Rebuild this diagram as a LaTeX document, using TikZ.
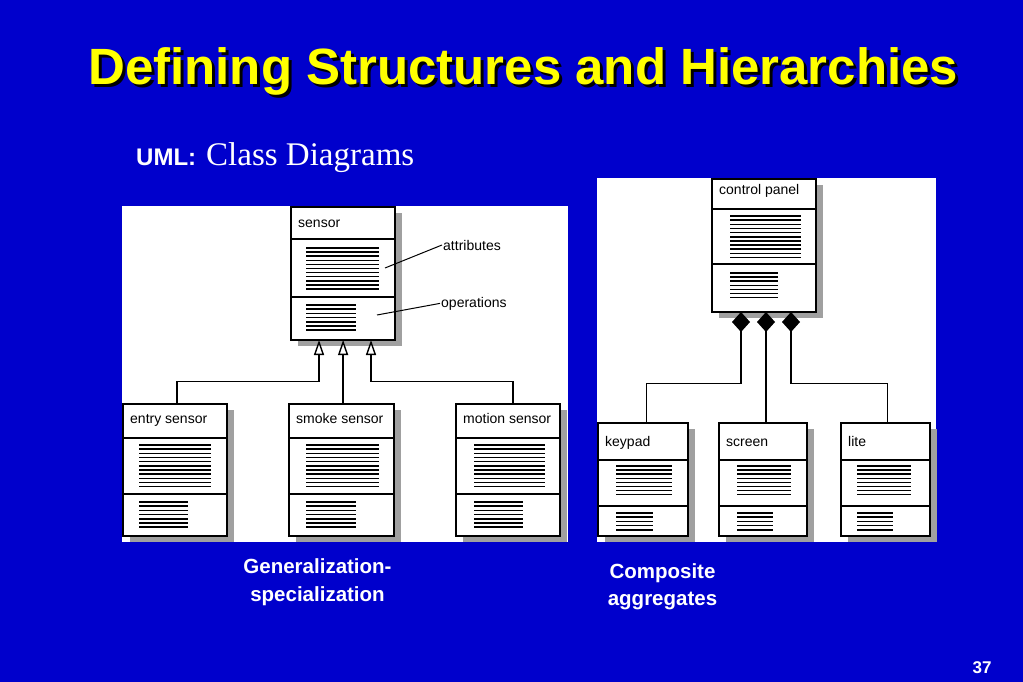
\documentclass[tikz,border=0pt]{standalone}
\usepackage{fontspec}
\newfontfamily\arialf{Liberation Sans}
\newfontfamily\timesf{Liberation Serif}
\usetikzlibrary{arrows.meta}
\definecolor{bgblue}{RGB}{0,0,204}
\definecolor{ttlyellow}{RGB}{255,255,0}
\definecolor{shadowgray}{RGB}{160,160,160}
\tikzset{
 classbox/.style={draw=black, fill=white, line width=1.4pt, inner sep=0pt, outer sep=0pt, anchor=north west},
 boxline/.style={draw=black, line width=1.4pt},
 hatchline/.style={draw=black, line width=1.5pt},
 umltext/.style={font=\arialf\fontsize{14}{16}\selectfont, inner sep=0pt, anchor=base west},
 genline/.style={draw=black, line width=1.4pt, -{Triangle[fill=white,length=15pt,width=10pt]}},
 aggline/.style={draw=black, line width=1.4pt, -{Diamond[fill=black,length=20pt,width=18pt]}},
 leader/.style={draw=black, line width=1pt},
 caption/.style={font=\arialf\bfseries\fontsize{20.5}{24}\selectfont, text=white, inner sep=0pt, anchor=base},
 titletext/.style={font=\arialf\bfseries\fontsize{51}{56}\selectfont, inner sep=0pt, anchor=base west},
}
% name, x1, y1, x2, y2, d1, d2, label, label baseline
\newcommand{\uclass}[9]{%
 \fill[shadowgray] ({#2+7},{#3+6}) rectangle ({#4+7},{#5+6});
 \node[classbox, minimum width={(#4-#2)*1pt}, minimum height={(#5-#3)*1pt}] (#1) at (#2,#3) {};
 \draw[boxline] (#2,#6) -- (#4,#6);
 \draw[boxline] (#2,#7) -- (#4,#7);
 \node[umltext] (#1-lbl) at ({#2+7},#9) {#8};
}
% x1, x2, ystart, n, step
\newcommand{\hatch}[5]{%
 \foreach \k in {1,...,#4}{\draw[hatchline] ({#1},{#3+(\k-1)*#5}) -- ({#2},{#3+(\k-1)*#5});}
}
\newcommand{\ttltext}{Defining Structures and Hierarchies}
\begin{document}
\begin{tikzpicture}[x=1pt,y=-1pt]
\useasboundingbox (0,0) rectangle (1023,682);
\fill[bgblue] (0,0) rectangle (1023,682);
% title with drop shadow
\node[titletext, text=ttlyellow] (title) at (88,85) {\makebox[0pt][l]{\hspace{3pt}\raisebox{-3pt}{\color{black}\ttltext}}\ttltext};
\node[font=\arialf\bfseries\fontsize{24}{28}\selectfont, text=white, inner sep=0pt, anchor=base west] (uml) at (136,165) {UML:};
\node[font=\timesf\fontsize{33}{36}\selectfont, text=white, inner sep=0pt, anchor=base west] (classdiag) at (206,165) {Class Diagrams};
% panels
\fill[white] (122,206) rectangle (568,542);
\fill[white] (597,178) rectangle (936,542);
% left diagram
\uclass{sensor}{291}{207}{395}{340}{239}{297}{sensor}{227}
\hatch{306}{379}{248}{11}{4.1}
\hatch{306}{356}{305}{7}{4.2}
\uclass{entry}{123}{404}{227}{536}{438}{494}{entry sensor}{423}
\hatch{139}{211}{445}{11}{4.17}
\hatch{139}{188}{502}{7}{4.2}
\uclass{smoke}{289}{404}{394}{536}{438}{494}{smoke sensor}{423}
\hatch{306}{379}{445}{11}{4.17}
\hatch{306}{356}{502}{7}{4.2}
\uclass{motion}{456}{404}{560}{536}{438}{494}{motion sensor}{423}
\hatch{474}{545}{445}{11}{4.17}
\hatch{474}{523}{502}{7}{4.2}
\node[umltext] (attrlbl) at (443,250) {attributes};
\node[umltext] (oplbl) at (441,307) {operations};
\coordinate (attrpt) at (385,268);
\coordinate (oppt) at (377,315);
\draw[leader] (attrpt) -- ([xshift=-1pt]attrlbl.west);
\draw[leader] (oppt) -- ([xshift=-1pt]oplbl.west);
\coordinate (s1) at ([xshift=28pt]sensor.south west);
\coordinate (s3) at ([xshift=80pt]sensor.south west);
\coordinate (bus1) at (0,381.7);
\coordinate (e1) at ([xshift=2pt]entry.north);
\coordinate (m1) at ([xshift=1.6pt]smoke.north);
\coordinate (r1) at ([xshift=5pt]motion.north);
\draw[genline] (e1) -- (e1 |- bus1) -| (s1);
\draw[genline] (m1) -- (m1 |- sensor.south);
\draw[genline] (r1) -- (r1 |- bus1) -| (s3);
% right diagram
\uclass{control}{712}{179}{816}{312}{209}{264}{control panel}{194}
\hatch{730}{801}{216}{11}{4.15}
\hatch{730}{778}{273}{7}{4.1}
\uclass{keypad}{598}{423}{688}{536}{460}{506}{keypad}{446}
\hatch{616}{672}{466}{8}{4.1}
\hatch{616}{653}{513}{5}{4.2}
\uclass{screen}{719}{423}{807}{536}{460}{506}{screen}{446}
\hatch{737}{791}{466}{8}{4.1}
\hatch{737}{773}{513}{5}{4.2}
\uclass{lite}{841}{423}{930}{536}{460}{506}{lite}{446}
\hatch{857}{911}{466}{8}{4.1}
\hatch{857}{893}{513}{5}{4.2}
\coordinate (c1) at ([xshift=29pt]control.south west);
\coordinate (c3) at ([xshift=79pt]control.south west);
\coordinate (bus2) at (0,383.3);
\coordinate (k1) at ([xshift=3.7pt]keypad.north);
\coordinate (sc1) at ([xshift=3pt]screen.north);
\coordinate (l1) at ([xshift=2.2pt]lite.north);
\draw[aggline] (k1) -- (k1 |- bus2) -| (c1);
\draw[aggline] (sc1) -- (sc1 |- control.south);
\draw[aggline] (l1) -- (l1 |- bus2) -| (c3);
% captions
\node[caption] (gen1) at (317.5,573) {Generalization-};
\node[caption] (gen2) at (317.5,601) {specialization};
\node[caption] (comp1) at (662.5,578) {Composite};
\node[caption] (comp2) at (662.5,605) {aggregates};
\node[font=\arialf\bfseries\fontsize{17}{20}\selectfont, text=white, inner sep=0pt, anchor=base] (pagenum) at (982,673) {37};
\end{tikzpicture}
\end{document}
